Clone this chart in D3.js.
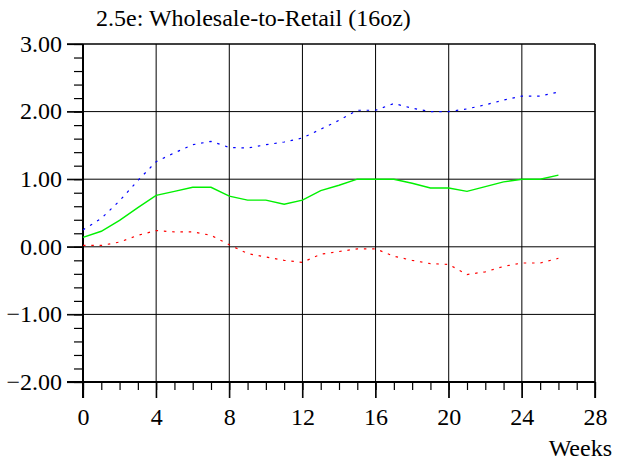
<!DOCTYPE html>
<html>
<head>
<meta charset="utf-8">
<script src="https://cdn.jsdelivr.net/npm/d3@7"></script>
<style>
  body { margin: 0; background: #fff; }
</style>
</head>
<body>
<svg id="chart" width="622" height="461"></svg>
<script>
// weeks 0..26
const weeks = d3.range(0, 27);
const upper = [0.25, 0.42, 0.68, 0.98, 1.26, 1.39, 1.51, 1.56, 1.47, 1.46, 1.51, 1.55, 1.61, 1.74, 1.87,
               2.02, 2.02, 2.12, 2.05, 2.00, 2.00, 2.04, 2.10, 2.17, 2.23, 2.23, 2.29];
const middle = [0.14, 0.23, 0.39, 0.58, 0.76, 0.82, 0.88, 0.88, 0.75, 0.69, 0.69, 0.63, 0.69, 0.83, 0.91,
                1.00, 1.00, 1.00, 0.94, 0.87, 0.87, 0.82, 0.89, 0.96, 1.00, 1.00, 1.06];
const lower = [0.02, 0.02, 0.07, 0.17, 0.24, 0.22, 0.22, 0.17, 0.03, -0.10, -0.15, -0.20, -0.23, -0.11, -0.07,
               -0.03, -0.03, -0.14, -0.20, -0.25, -0.26, -0.41, -0.37, -0.29, -0.24, -0.24, -0.17];
const xMajor = [0, 4, 8, 12, 16, 20, 24, 28];
const yMajor = [-2, -1, 0, 1, 2, 3];
const title = "2.5e: Wholesale-to-Retail (16oz)";
const xLabel = "Weeks";

const serif = '"Liberation Serif", "DejaVu Serif", serif';
const svg = d3.select("#chart");
const x = d3.scaleLinear().domain([0, 28]).range([83, 595]);
const y = d3.scaleLinear().domain([-2, 3]).range([382, 44]);

// grid
svg.append("g").selectAll("line.vg")
    .data(xMajor.slice(1))
    .enter().append("line")
    .attr("x1", d => x(d)).attr("x2", d => x(d))
    .attr("y1", y(3)).attr("y2", y(-2) + 16)
    .attr("stroke", "#000").attr("stroke-width", 1);

svg.append("g").selectAll("line.hg")
    .data(yMajor.slice(1))
    .enter().append("line")
    .attr("x1", x(0) - 16).attr("x2", x(28))
    .attr("y1", d => y(d)).attr("y2", d => y(d))
    .attr("stroke", "#000").attr("stroke-width", d => d === 3 ? 1.4 : 1);

// minor ticks
let yMinor = d3.axisLeft(y).tickValues(d3.range(-2, 3.001, 0.2)).tickSize(9).tickFormat("");
svg.append("g").attr("transform", `translate(${x(0)},0)`).call(yMinor)
    .call(g => g.select(".domain").remove())
    .selectAll("line").attr("stroke", "#000").attr("stroke-width", 1.2);

let xMinor = d3.axisBottom(x).tickValues(d3.range(0, 29, 1)).tickSize(8).tickFormat("");
svg.append("g").attr("transform", `translate(0,${y(-2)})`).call(xMinor)
    .call(g => g.select(".domain").remove())
    .selectAll("line").attr("stroke", "#000").attr("stroke-width", 1.2);

// major ticks + labels
let yAxis = d3.axisLeft(y).tickValues(yMajor).tickSize(16).tickPadding(5)
    .tickFormat(d3.format(".2f"));
svg.append("g").attr("transform", `translate(${x(0)},0)`).call(yAxis)
    .call(g => g.select(".domain").remove())
    .call(g => g.selectAll("line").attr("stroke", "#000").attr("stroke-width", 1.2))
    .selectAll("text")
    .attr("dy", "0.3em")
    .attr("fill", "#000")
    .style("font-family", serif)
    .style("font-size", "24px");

let xAxis = d3.axisBottom(x).tickValues(xMajor).tickSize(16).tickPadding(10);
svg.append("g").attr("transform", `translate(0,${y(-2)})`).call(xAxis)
    .call(g => g.select(".domain").remove())
    .call(g => g.selectAll("line").attr("stroke", "#000").attr("stroke-width", 1.2))
    .selectAll("text")
    .attr("fill", "#000")
    .style("font-family", serif)
    .style("font-size", "24px");

// frame
svg.append("line").attr("x1", x(28)).attr("x2", x(28)).attr("y1", y(3)).attr("y2", y(-2) + 16)
    .attr("stroke", "#000").attr("stroke-width", 1.3);
svg.append("line").attr("x1", x(0)).attr("x2", x(0)).attr("y1", y(3)).attr("y2", y(-2) + 16)
    .attr("stroke", "#000").attr("stroke-width", 2);
svg.append("line").attr("x1", x(0) - 16).attr("x2", x(28)).attr("y1", y(-2)).attr("y2", y(-2))
    .attr("stroke", "#000").attr("stroke-width", 2);

// series
const line = d3.line().x((d, i) => x(weeks[i])).y(d => y(d));
svg.append("path").datum(upper).attr("d", line)
    .attr("fill", "none").attr("stroke", "#0000ff").attr("stroke-width", 1.2)
    .attr("stroke-dasharray", "2.5,5.8");
svg.append("path").datum(lower).attr("d", line)
    .attr("fill", "none").attr("stroke", "#ff0000").attr("stroke-width", 1.2)
    .attr("stroke-dasharray", "2.5,5.8");
svg.append("path").datum(middle).attr("d", line)
    .attr("fill", "none").attr("stroke", "#00f000").attr("stroke-width", 1.4);

// texts
svg.append("text").attr("x", 96).attr("y", 26)
    .style("font-family", serif)
    .style("font-size", "24px").text(title);
svg.append("text").attr("x", 612).attr("y", 456).attr("text-anchor", "end")
    .style("font-family", serif)
    .style("font-size", "24px").text(xLabel);
</script>
</body>
</html>
